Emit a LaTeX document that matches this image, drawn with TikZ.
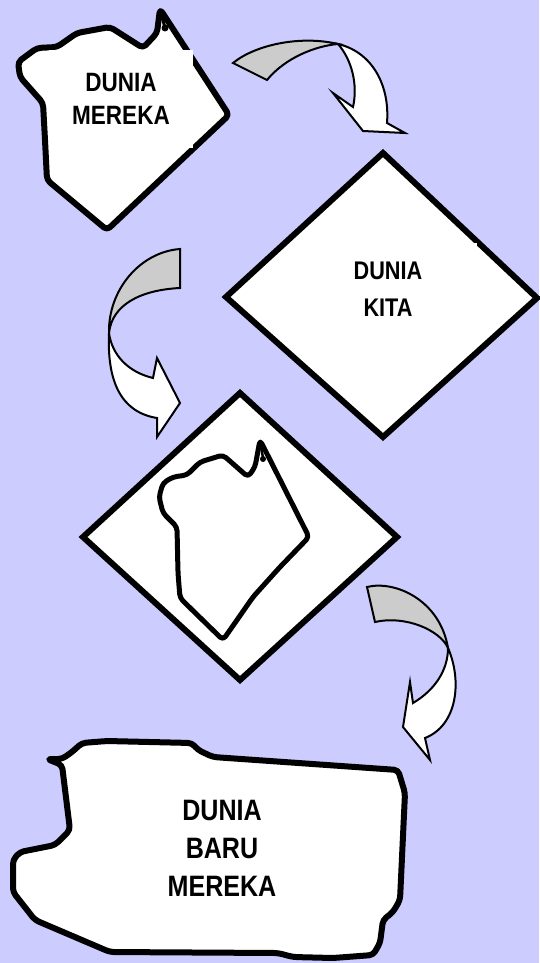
\documentclass[tikz,border=0pt]{standalone}
\usepackage{fontspec}
\usepackage{tikz}

\newfontfamily\worldfont[FakeStretch=0.85]{Liberation Sans}
\definecolor{bglilac}{HTML}{CCCCFF}
\definecolor{tailgray}{HTML}{CCCCCC}

\begin{document}
\begin{tikzpicture}[x=1pt, y=-1pt,
    world/.style={draw=black, line width=6pt, fill=white, rounded corners=4pt, line join=round},
    inner world/.style={world, line width=5pt},
    arrowtail/.style={draw=black, line width=2pt, fill=tailgray, line join=miter},
    arrowhead/.style={draw=black, line width=2pt, fill=white, line join=miter},
    worldlabel/.style={fill=white, inner sep=0pt, align=center, font=\worldfont\bfseries}]

    % background
    \useasboundingbox (0,0) rectangle (539,963);
    \fill[bglilac] (0,0) rectangle (539,963);

    % their world
    \draw[world] (160,9) -- (229,115) -- (107,230) -- (47,180) -- (45,140)
        -- (43,103) -- (20,77) -- (18,62) -- (37,48) -- (57,47) -- (77,33)
        -- (110,27) -- (143,48) -- (157,33) -- cycle;
    \draw[line width=3pt] (160,9) -- (165,28);
    \fill (165,28) circle (3.5);
    \node[worldlabel, minimum width=144, minimum height=97,
        font=\worldfont\bfseries\fontsize{26.5}{33}\selectfont]
        (mereka) at (121,99) {DUNIA\\MEREKA};

    %arrow one
    \draw[arrowtail] (233,63) .. controls (255,45) and (300,35) .. (338,44)
        .. controls (315,46) and (285,58) .. (267,80) -- cycle;
    \draw[arrowhead] (338,44) .. controls (372,52) and (390,85) .. (387,123)
        -- (405,133) -- (363,131) -- (333,93) -- (353,107)
        .. controls (358,85) and (352,60) .. (338,44) -- cycle;

    % our world
    \draw[world, rounded corners=0pt, line join=miter] (383,153) -- (537,298) -- (383,437) -- (226,297) -- cycle;
    \node[worldlabel, minimum width=178, minimum height=92,
        font=\worldfont\bfseries\fontsize{25.5}{36.5}\selectfont]
        (kita) at (388,289) {DUNIA\\KITA};

    % arrow two
    \draw[arrowtail] (180,249) .. controls (140,252) and (108,290) .. (109,333)
        .. controls (112,305) and (140,290) .. (180,288) -- cycle;
    \draw[arrowhead] (109,333) .. controls (107,380) and (120,412) .. (157,418)
        -- (157,437) -- (180,403) -- (157,358) -- (153,378)
        .. controls (128,372) and (112,355) .. (109,333) -- cycle;

    % their world inside ours
    \draw[world, rounded corners=0pt, line join=miter] (240,393) -- (397,537) -- (240,680) -- (83,537) -- cycle;
    \draw[inner world] (260,440) -- (309,537) -- (280,567) -- (253,597)
        -- (237,620) -- (223,640) -- (180,598) -- (178,573) -- (177,527)
        -- (163,513) -- (159,497) -- (163,483) -- (173,477) -- (187,475)
        -- (200,462) -- (223,455) -- (248,477) -- (255,467) -- cycle;
    \draw[line width=2.5pt] (260,440) -- (263,458);
    \fill (263,459) circle (3);

    % arrow three
    \draw[arrowtail] (367,587) .. controls (395,580) and (440,600) .. (448,648)
        .. controls (440,630) and (405,615) .. (375,622) -- cycle;
    \draw[arrowhead] (448,648) .. controls (462,680) and (458,725) .. (425,738)
        -- (430,760) -- (403,727) -- (410,682) -- (413,703)
        .. controls (435,690) and (448,670) .. (448,648) -- cycle;

    % their new world
    \draw[world] (47,759) -- (62,759) -- (72,752) -- (82,743) -- (107,741)
        -- (192,743) -- (198,750) -- (213,757) -- (398,770) -- (405,793)
        -- (400,900) -- (393,912) -- (383,920) -- (380,943) -- (373,955)
        -- (333,958) -- (293,957) -- (278,953) -- (110,952) -- (35,920)
        -- (13,892) -- (13,860) -- (20,852) -- (55,845) -- (70,830)
        -- (62,765) -- cycle;
    \node[worldlabel, font=\worldfont\bfseries\fontsize{29.5}{38}\selectfont]
        (baru) at (222,848) {DUNIA\\BARU\\MEREKA};
\end{tikzpicture}
\end{document}
